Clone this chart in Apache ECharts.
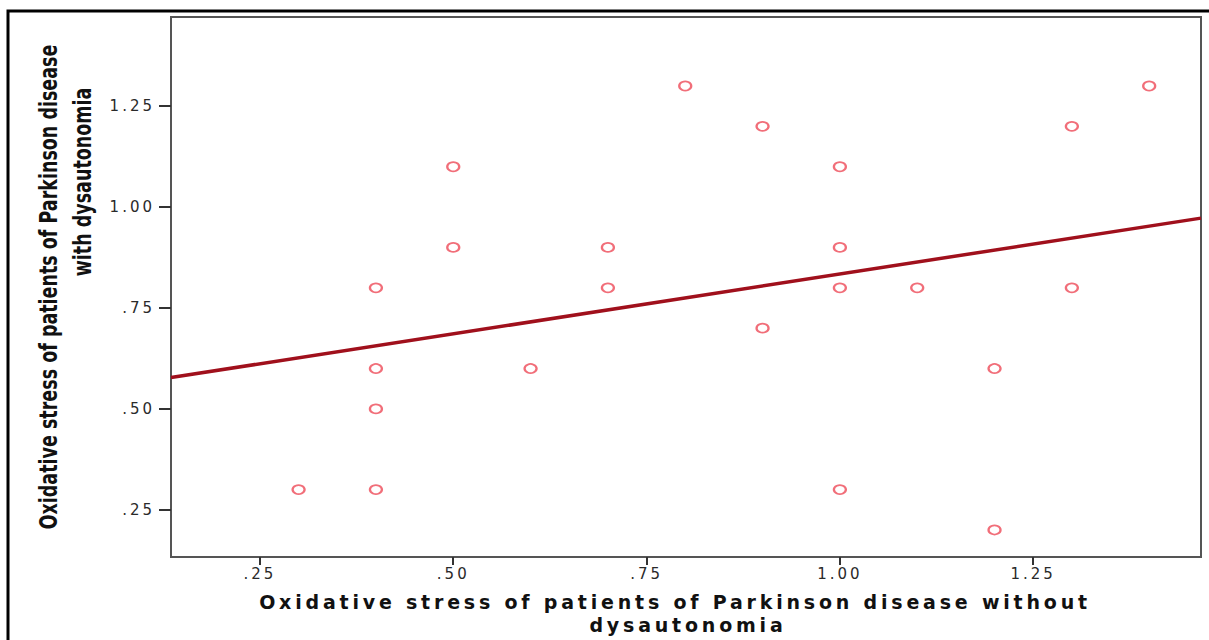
<!DOCTYPE html>
<html>
<head>
<meta charset="utf-8">
<script src="https://cdn.jsdelivr.net/npm/echarts@6/dist/echarts.min.js"></script>
<style>
  html, body { margin: 0; padding: 0; background: #fff; }
  #chart { width: 1209px; height: 640px; }
  /* SPSS-style tracking on the wide labels, none on the condensed y title */
  #chart text { letter-spacing: 3px; }
  #chart text[style*="bold"] { letter-spacing: 3.8px; }
  #chart text[style*="Condensed"] { letter-spacing: 0; }
</style>
</head>
<body>
<div id="chart"></div>
<script>
// oxidative stress, without dysautonomia (x) vs with dysautonomia (y)
var xValues = [0.3, 0.4, 0.4, 0.4, 0.4, 0.5, 0.5, 0.6, 0.7, 0.7, 0.8, 0.9, 0.9, 1.0, 1.0, 1.0, 1.0, 1.1, 1.2, 1.2, 1.3, 1.3, 1.4]
var yValues = [0.3, 0.8, 0.6, 0.5, 0.3, 1.1, 0.9, 0.6, 0.9, 0.8, 1.3, 1.2, 0.7, 1.1, 0.9, 0.8, 0.3, 0.8, 0.6, 0.2, 1.2, 0.8, 1.3]
var tickValues = [0.25, 0.5, 0.75, 1.0, 1.25]

var xMin = 0.135
var xMax = 1.467
var yMin = 0.133
var yMax = 1.471

var yTitleFont = 'bold 24px "DejaVu Sans Condensed", "DejaVu Sans"'
var yTitle1 = 'Oxidative stress of patients of Parkinson disease'
var yTitle2 = 'with dysautonomia'
var xTitle1 = 'Oxidative stress of patients of Parkinson disease without'
var xTitle2 = 'dysautonomia'

// least squares fit line
function fitLine(xs, ys) {
  var n = xs.length
  var mx = 0, my = 0
  for (var i = 0; i < n; i++) { mx += xs[i]; my += ys[i] }
  mx /= n; my /= n
  var sxy = 0, sxx = 0
  for (var j = 0; j < n; j++) {
    sxy += (xs[j] - mx) * (ys[j] - my)
    sxx += (xs[j] - mx) * (xs[j] - mx)
  }
  var b = sxy / sxx
  var a = my - b * mx
  return [[xMin, a + b * xMin], [xMax, a + b * xMax]]
}

// squeeze the y title so it runs the height of the plot like the original
function squeeze(text, font, target) {
  var ctx = document.createElement('canvas').getContext('2d')
  ctx.font = font
  return target / ctx.measureText(text).width
}

var points = xValues.map(function(x, i) { return [x, yValues[i]] })

function fmt(v) {
  return v.toFixed(2).replace(/^0/, '')
}

var sq = squeeze(yTitle1, yTitleFont, 485)

var chart = echarts.init(document.getElementById('chart'), null, { renderer: 'svg' })

chart.setOption({
  animation: false,
  backgroundColor: '#fff',
  grid: {
    left: 171,
    right: 8,
    top: 17,
    bottom: 83,
    show: true,
    borderColor: '#555',
    borderWidth: 2
  },
  xAxis: {
    type: 'value',
    min: xMin,
    max: xMax,
    splitLine: { show: false },
    axisLine: { show: true, lineStyle: { color: '#555', width: 2 } },
    axisTick: { show: true, customValues: tickValues, length: 8, lineStyle: { color: '#333', width: 2 } },
    axisLabel: {
      customValues: tickValues,
      formatter: fmt,
      margin: 9,
      fontSize: 15,
      fontFamily: 'DejaVu Sans',
      color: '#2a2a2a'
    }
  },
  yAxis: {
    type: 'value',
    min: yMin,
    max: yMax,
    splitLine: { show: false },
    axisLine: { show: true, lineStyle: { color: '#555', width: 2 } },
    axisTick: { show: true, customValues: tickValues, length: 12, lineStyle: { color: '#333', width: 2 } },
    axisLabel: {
      customValues: tickValues,
      formatter: fmt,
      margin: 16,
      fontSize: 15,
      fontFamily: 'DejaVu Sans',
      color: '#2a2a2a'
    }
  },
  series: [
    {
      type: 'line',
      data: fitLine(xValues, yValues),
      showSymbol: false,
      silent: true,
      z: 1,
      lineStyle: { color: '#a0101c', width: 3.5 }
    },
    {
      type: 'scatter',
      data: points,
      symbol: 'emptyCircle',
      symbolSize: [12, 9],
      z: 2,
      itemStyle: { color: '#ee4a58', borderWidth: 1.5 }
    }
  ],
  graphic: [
    {
      type: 'rect',
      shape: { x: 8, y: 11, width: 1230, height: 700 },
      style: { fill: 'none', stroke: '#000', lineWidth: 3 },
      silent: true
    },
    {
      type: 'text',
      x: 49, y: 287, rotation: Math.PI / 2, scaleX: sq,
      style: {
        text: yTitle1,
        font: yTitleFont,
        fill: '#111', align: 'center', verticalAlign: 'middle'
      }
    },
    {
      type: 'text',
      x: 83, y: 182, rotation: Math.PI / 2, scaleX: sq,
      style: {
        text: yTitle2,
        font: yTitleFont,
        fill: '#111', align: 'center', verticalAlign: 'middle'
      }
    },
    {
      type: 'text',
      x: 675, y: 602,
      style: {
        text: xTitle1,
        font: 'bold 19px "DejaVu Sans"',
        fill: '#111', align: 'center', verticalAlign: 'middle'
      }
    },
    {
      type: 'text',
      x: 688, y: 625,
      style: {
        text: xTitle2,
        font: 'bold 19px "DejaVu Sans"',
        fill: '#111', align: 'center', verticalAlign: 'middle'
      }
    }
  ]
})
</script>
</body>
</html>
